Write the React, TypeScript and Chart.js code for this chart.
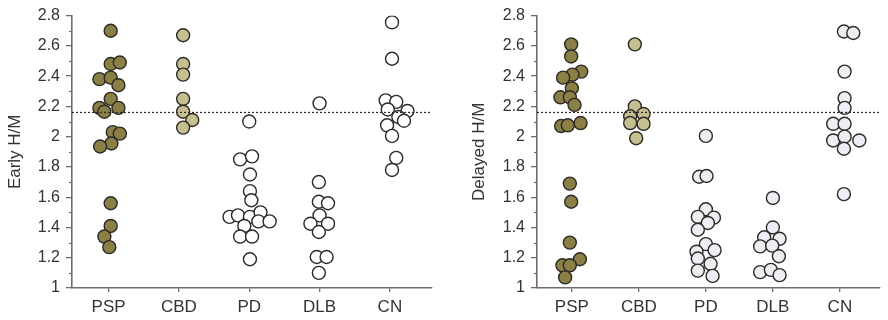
import React, { useEffect, useRef } from 'react';
import { Chart, registerables } from 'chart.js';

Chart.register(...registerables);

// ---------- data ----------
const categories = ['PSP', 'CBD', 'PD', 'DLB', 'CN'];
const yTickValues = [1, 1.2, 1.4, 1.6, 1.8, 2, 2.2, 2.4, 2.6, 2.8];
const yMinorTickValues = [1.1, 1.3, 1.5, 1.7, 1.9, 2.1, 2.3, 2.5, 2.7];
const cutoffValue = 2.16;

// Early H/M
const earlyPSP = [2.70, 2.48, 2.49, 2.38, 2.39, 2.34, 2.25, 2.19, 2.165, 2.19, 2.03, 2.02, 1.955, 1.935, 1.56, 1.41, 1.34, 1.27];
const earlyCBD = [2.67, 2.48, 2.41, 2.25, 2.165, 2.11, 2.06];
const earlyPD = [2.10, 1.85, 1.87, 1.75, 1.64, 1.58, 1.47, 1.48, 1.47, 1.50, 1.44, 1.44, 1.41, 1.34, 1.34, 1.19];
const earlyDLB = [2.22, 1.70, 1.57, 1.56, 1.48, 1.425, 1.425, 1.37, 1.205, 1.205, 1.10];
const earlyCN = [2.755, 2.515, 2.24, 2.23, 2.18, 2.17, 2.13, 2.105, 2.075, 2.005, 1.86, 1.78];

// Delayed H/M
const delayedPSP = [2.61, 2.53, 2.43, 2.41, 2.39, 2.32, 2.26, 2.26, 2.21, 2.07, 2.075, 2.09, 1.69, 1.57, 1.30, 1.19, 1.15, 1.15, 1.07];
const delayedCBD = [2.61, 2.20, 2.135, 2.15, 2.09, 2.085, 1.99];
const delayedPD = [2.005, 1.735, 1.74, 1.52, 1.47, 1.465, 1.43, 1.385, 1.29, 1.25, 1.24, 1.195, 1.16, 1.115, 1.08];
const delayedDLB = [1.595, 1.40, 1.335, 1.325, 1.275, 1.28, 1.21, 1.105, 1.12, 1.085];
const delayedCN = [2.695, 2.685, 2.43, 2.255, 2.19, 2.085, 2.085, 1.975, 2.0, 1.975, 1.92, 1.62];

// horizontal beeswarm offsets (in category units)
const earlyPSPJitter = [0.03, 0.03, 0.16, -0.13, 0.03, 0.14, 0.03, -0.13, -0.06, 0.14, 0.06, 0.16, 0.04, -0.12, 0.03, 0.03, -0.06, 0.01];
const earlyCBDJitter = [0.06, 0.06, 0.06, 0.06, 0.06, 0.19, 0.06];
const earlyPDJitter = [0, -0.13, 0.04, 0.01, 0.01, 0.03, -0.28, -0.16, 0.01, 0.16, 0.13, 0.29, -0.07, -0.13, 0.04, 0.01];
const earlyDLBJitter = [0, -0.01, -0.01, 0.12, 0, -0.13, 0.12, -0.01, -0.04, 0.10, -0.01];
const earlyCNJitter = [0.03, 0.03, -0.06, 0.09, -0.03, 0.25, 0.12, 0.2, -0.04, 0.03, 0.09, 0.03];

const delayedPSPJitter = [-0.01, -0.01, 0.14, 0.01, -0.13, 0, -0.17, -0.03, 0.04, -0.16, -0.06, 0.13, -0.03, -0.01, -0.03, 0.12, -0.14, -0.03, -0.1];
const delayedCBDJitter = [-0.06, -0.06, -0.13, 0.07, -0.13, 0.07, -0.04];
const delayedPDJitter = [0, -0.1, 0.01, 0, -0.12, 0.12, 0.03, -0.12, 0, 0.13, -0.14, -0.12, 0.07, -0.12, 0.1];
const delayedDLBJitter = [0, 0, -0.13, 0.1, -0.19, -0.01, 0.09, -0.19, -0.03, 0.1];
const delayedCNJitter = [0.06, 0.2, 0.07, 0.07, 0.07, -0.1, 0.07, -0.1, 0.07, 0.29, 0.06, 0.06];

// ---------- style ----------
const X_MIN = -0.52;
const X_MAX = 4.6;
const FONT = "'Liberation Sans', Arial, Helvetica, sans-serif";
const AXIS_COLOR = '#766a68';
const TEXT_COLOR = '#333333';
const POINT_BORDER = '#2e2a26';

const minorTicksPlugin = {
  id: 'minorTicks',
  afterDraw(chart: any) {
    const y = chart.scales.y;
    const ctx = chart.ctx;
    const left = chart.chartArea.left;
    ctx.save();
    ctx.strokeStyle = AXIS_COLOR;
    ctx.lineWidth = 1.2;
    yMinorTickValues.forEach((v) => {
      const py = Math.round(y.getPixelForValue(v)) + 0.5;
      ctx.beginPath();
      ctx.moveTo(left - 3, py);
      ctx.lineTo(left, py);
      ctx.stroke();
    });
    ctx.restore();
  },
};

type PanelProps = {
  left: number;
  width: number;
  axisWidth: number;
  title: string;
  groups: number[][];
  jitters: number[][];
  fills: string[];
};

function Panel({ left, width, axisWidth, title, groups, jitters, fills }: PanelProps) {
  const ref = useRef<HTMLCanvasElement>(null);
  useEffect(() => {
    if (!ref.current) return;
    const datasets: any[] = [
      {
        type: 'line',
        data: [
          { x: X_MIN, y: cutoffValue },
          { x: X_MAX, y: cutoffValue },
        ],
        borderColor: '#2a2a2a',
        borderWidth: 1.2,
        borderDash: [2, 2],
        pointRadius: 0,
        fill: false,
      },
    ];
    groups.forEach((vals, i) => {
      datasets.push({
        type: 'scatter',
        data: vals.map((y, j) => ({ x: i + jitters[i][j], y })),
        backgroundColor: fills[i],
        borderColor: POINT_BORDER,
        borderWidth: 1.4,
        pointRadius: 6.5,
        pointHoverRadius: 6.5,
      });
    });
    const chart = new Chart(ref.current, {
      type: 'scatter',
      data: { datasets },
      options: {
        animation: false,
        responsive: false,
        maintainAspectRatio: false,
        layout: { padding: { top: 14, right: 0, left: 0, bottom: 0 } },
        plugins: { legend: { display: false }, tooltip: { enabled: false } },
        scales: {
          x: {
            type: 'linear',
            min: X_MIN,
            max: X_MAX,
            afterBuildTicks: (s: any) => {
              s.ticks = categories.map((_, i) => ({ value: i }));
            },
            afterFit: (s: any) => {
              s.height = 32;
            },
            ticks: {
              callback: (v: any) => categories[Math.round(Number(v))] ?? '',
              font: { family: FONT, size: 17 },
              color: TEXT_COLOR,
              padding: 5,
              maxRotation: 0,
              autoSkip: false,
            },
            grid: {
              drawOnChartArea: false,
              drawTicks: true,
              tickLength: 4,
              color: AXIS_COLOR,
              lineWidth: 1.3,
            },
            border: { color: AXIS_COLOR, width: 1.6 },
          },
          y: {
            type: 'linear',
            min: 1,
            max: 2.8,
            afterBuildTicks: (s: any) => {
              s.ticks = yTickValues.map((v) => ({ value: v }));
            },
            afterFit: (s: any) => {
              s.width = axisWidth;
            },
            ticks: {
              callback: (v: any) => Number(v).toFixed(1).replace(/\.0$/, ''),
              font: { family: FONT, size: 16 },
              color: TEXT_COLOR,
              padding: 6,
            },
            grid: {
              drawOnChartArea: false,
              drawTicks: true,
              tickLength: 6,
              color: AXIS_COLOR,
              lineWidth: 1.3,
            },
            border: { color: AXIS_COLOR, width: 1.6 },
            title: {
              display: true,
              text: title,
              font: { family: FONT, size: 17 },
              color: TEXT_COLOR,
              padding: { top: 5, bottom: 0 },
            },
          },
        },
      },
      plugins: [minorTicksPlugin],
    } as any);
    return () => chart.destroy();
  }, []);
  return (
    <canvas
      ref={ref}
      width={width}
      height={320}
      style={{ position: 'absolute', left, top: 0, width, height: 320 }}
    />
  );
}

const darkOlive = '#8a7f45';
const lightOlive = '#c6bf90';

export default function App() {
  return (
    <div style={{ position: 'fixed', left: 0, top: 0, width: 888, height: 320, background: '#ffffff' }}>
      <Panel
        left={0}
        width={440}
        axisWidth={72}
        title="Early H/M"
        groups={[earlyPSP, earlyCBD, earlyPD, earlyDLB, earlyCN]}
        jitters={[earlyPSPJitter, earlyCBDJitter, earlyPDJitter, earlyDLBJitter, earlyCNJitter]}
        fills={[darkOlive, lightOlive, '#ffffff', '#ffffff', '#ffffff']}
      />
      <Panel
        left={464}
        width={424}
        axisWidth={73}
        title="Delayed H/M"
        groups={[delayedPSP, delayedCBD, delayedPD, delayedDLB, delayedCN]}
        jitters={[delayedPSPJitter, delayedCBDJitter, delayedPDJitter, delayedDLBJitter, delayedCNJitter]}
        fills={[darkOlive, lightOlive, '#eceef3', '#eceef3', '#eceef3']}
      />
    </div>
  );
}
